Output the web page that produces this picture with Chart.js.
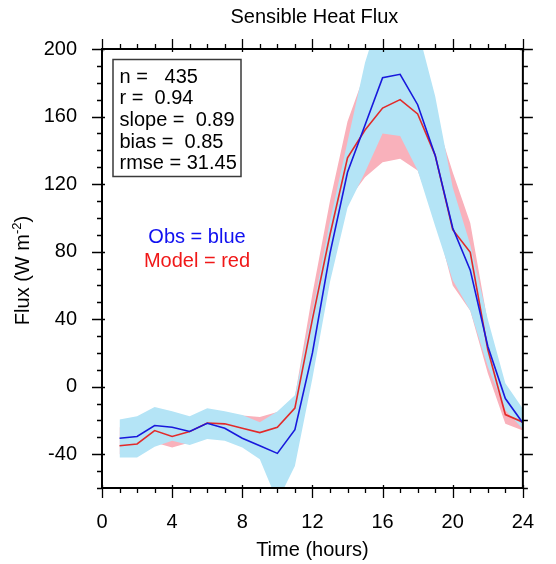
<!DOCTYPE html>
<html>
<head>
<meta charset="utf-8">
<script src="https://cdn.jsdelivr.net/npm/chart.js@4/dist/chart.umd.min.js"></script>
<style>
  html, body { margin: 0; padding: 0; background: #ffffff; }
  #wrap { width: 556px; height: 564px; }
</style>
</head>
<body>
<div id="wrap"><canvas id="flux" width="556" height="564"></canvas></div>
<script>
// Diurnal cycle of sensible heat flux (W m-2), hourly means and spread
const hours = [1, 2, 3, 4, 5, 6, 7, 8, 9, 10, 11, 12, 13, 14, 15, 16, 17, 18, 19, 20, 21, 22, 23, 24];

const obsMean   = [-30.5, -29.5, -23, -24, -26.5, -21.7, -24.6, -30.5, -35, -39.5, -25.5, 20, 79, 127, 155, 183, 185, 167, 137, 94, 69, 24, -7, -21.5];
const obsHigh   = [-19.5, -17.5, -12, -14.5, -17.5, -12.7, -14.5, -16.7, -21, -14.7, -5, 45, 98, 145, 192, 225, 226, 212, 172, 118, 84, 40, 2, -13];
const obsLow    = [-42, -42, -35.5, -32, -34.5, -31, -32, -36, -43, -68, -47, 5, 62, 106, 127, 150, 148.5, 128, 95, 63, 45, 12, -14, -25];

const modelMean = [-35, -33.9, -26, -29.5, -26.6, -21.5, -22, -24.6, -27.2, -24, -12.7, 40, 90, 135.5, 152, 165, 170, 161.5, 137, 93, 79.6, 22, -16.5, -21];
const modelHigh = [-24, -22, -17, -19, -18, -15, -16, -17, -18, -15, -6, 55, 110, 157, 186, 195, 200, 190, 160, 127, 97, 38, -6, -17];
const modelLow  = [-40, -40, -33, -36, -33, -28, -29, -31, -34, -32, -20, 25, 70, 110, 124, 133, 135, 128, 100, 60, 45, 8, -22, -26];

const xTickValues = [0, 4, 8, 12, 16, 20, 24];
const yTickValues = [-40, 0, 40, 80, 120, 160, 200];

const statLines = ['n =   435', 'r =  0.94', 'slope =  0.89', 'bias =  0.85', 'rmse = 31.45'];

const FONT = '"Liberation Sans", Arial, Helvetica, sans-serif';
const BAND_BLUE = '#b4e4f6';
const BAND_PINK = '#f9b1bb';
const LINE_BLUE = '#1818dc';
const LINE_RED = '#e22a2a';

const toPoints = arr => hours.map((h, i) => ({ x: h, y: arr[i] }));

// Frame, tick marks, titles, stats box and colour key
const decorations = {
  id: 'decorations',
  afterDraw(chart) {
    const { ctx, chartArea: a, scales } = chart;
    const xs = scales.x, ys = scales.y;
    ctx.save();

    // axis frame
    ctx.strokeStyle = '#000';
    ctx.lineWidth = 2;
    ctx.strokeRect(a.left, a.top, a.right - a.left, a.bottom - a.top);

    // tick marks on all four sides, pointing outward
    ctx.lineWidth = 1.3;
    ctx.beginPath();
    for (let h = 0; h <= 24; h++) {
      const px = Math.round(xs.getPixelForValue(h)) + 0.5;
      const major = h % 4 === 0;
      const out = major ? 10 : 5, inn = major ? 3 : 0;
      ctx.moveTo(px, a.bottom - inn); ctx.lineTo(px, a.bottom + out);
      ctx.moveTo(px, a.top + inn); ctx.lineTo(px, a.top - out);
    }
    for (let v = -60; v <= 200; v += 10) {
      const py = Math.round(ys.getPixelForValue(v)) + 0.5;
      const major = v % 40 === 0;
      const out = major ? 10 : 5, inn = major ? 3 : 0;
      ctx.moveTo(a.left + inn, py); ctx.lineTo(a.left - out, py);
      ctx.moveTo(a.right - inn, py); ctx.lineTo(a.right + out, py);
    }
    ctx.stroke();

    ctx.fillStyle = '#000';
    ctx.font = '20px ' + FONT;
    ctx.textBaseline = 'alphabetic';

    // title
    ctx.textAlign = 'center';
    ctx.fillText('Sensible Heat Flux', (a.left + a.right) / 2 + 2, 23);

    // x axis title
    ctx.fillText('Time (hours)', (a.left + a.right) / 2, 556);

    // y axis title with superscript exponent
    ctx.save();
    ctx.translate(29, (a.top + a.bottom) / 2 + 2);
    ctx.rotate(-Math.PI / 2);
    const p1 = 'Flux (W m', sup = '-2', p2 = ')';
    ctx.font = '20px ' + FONT;
    const w1 = ctx.measureText(p1).width, w3 = ctx.measureText(p2).width;
    ctx.font = '13px ' + FONT;
    const w2 = ctx.measureText(sup).width;
    let sx = -(w1 + w2 + w3) / 2;
    ctx.textAlign = 'left';
    ctx.font = '20px ' + FONT;
    ctx.fillText(p1, sx, 0);
    ctx.font = '13px ' + FONT;
    ctx.fillText(sup, sx + w1, -8);
    ctx.font = '20px ' + FONT;
    ctx.fillText(p2, sx + w1 + w2, 0);
    ctx.restore();

    // statistics box
    ctx.strokeStyle = '#3a3a3a';
    ctx.lineWidth = 1.5;
    ctx.strokeRect(113, 59.5, 128, 117);
    ctx.textAlign = 'left';
    ctx.font = '20px ' + FONT;
    statLines.forEach((t, i) => ctx.fillText(t, 119.5, 82.5 + i * 21.7));

    // colour key
    ctx.textAlign = 'center';
    ctx.fillStyle = '#1010f0';
    ctx.fillText('Obs = blue', 197, 243);
    ctx.fillStyle = '#f01818';
    ctx.fillText('Model = red', 197, 267);

    ctx.restore();
  }
};

new Chart(document.getElementById('flux'), {
  type: 'line',
  data: {
    datasets: [
      { label: 'Obs', data: toPoints(obsMean), borderColor: LINE_BLUE, borderWidth: 1.6, pointRadius: 0, fill: false, order: 0 },
      { label: 'Model', data: toPoints(modelMean), borderColor: LINE_RED, borderWidth: 1.6, pointRadius: 0, fill: false, order: 1 },
      { label: 'Obs high', data: toPoints(obsHigh), borderColor: 'transparent', borderWidth: 0, pointRadius: 0, backgroundColor: BAND_BLUE, fill: 3, order: 2 },
      { label: 'Obs low', data: toPoints(obsLow), borderColor: 'transparent', borderWidth: 0, pointRadius: 0, fill: false, order: 3 },
      { label: 'Model high', data: toPoints(modelHigh), borderColor: 'transparent', borderWidth: 0, pointRadius: 0, backgroundColor: BAND_PINK, fill: 5, order: 4 },
      { label: 'Model low', data: toPoints(modelLow), borderColor: 'transparent', borderWidth: 0, pointRadius: 0, fill: false, order: 5 }
    ]
  },
  options: {
    responsive: false,
    animation: false,
    events: [],
    layout: { padding: { left: 0, right: 14, top: 49, bottom: 0 } },
    plugins: { legend: { display: false }, tooltip: { enabled: false }, title: { display: false } },
    scales: {
      x: {
        type: 'linear', min: 0, max: 24,
        grid: { display: false, drawTicks: false, tickLength: 0 },
        border: { display: false },
        afterBuildTicks: s => { s.ticks = xTickValues.map(v => ({ value: v })); },
        afterFit: s => { s.height = 76; },
        ticks: { autoSkip: false, maxRotation: 0, padding: 22, color: '#000', font: { family: FONT, size: 20 } }
      },
      y: {
        type: 'linear', min: -60, max: 200,
        grid: { display: false, drawTicks: false, tickLength: 0 },
        border: { display: false },
        afterBuildTicks: s => { s.ticks = yTickValues.map(v => ({ value: v })); },
        afterFit: s => { s.width = 102; },
        ticks: { autoSkip: false, padding: 25, color: '#000', font: { family: FONT, size: 20 } }
      }
    }
  },
  plugins: [decorations]
});
</script>
</body>
</html>
